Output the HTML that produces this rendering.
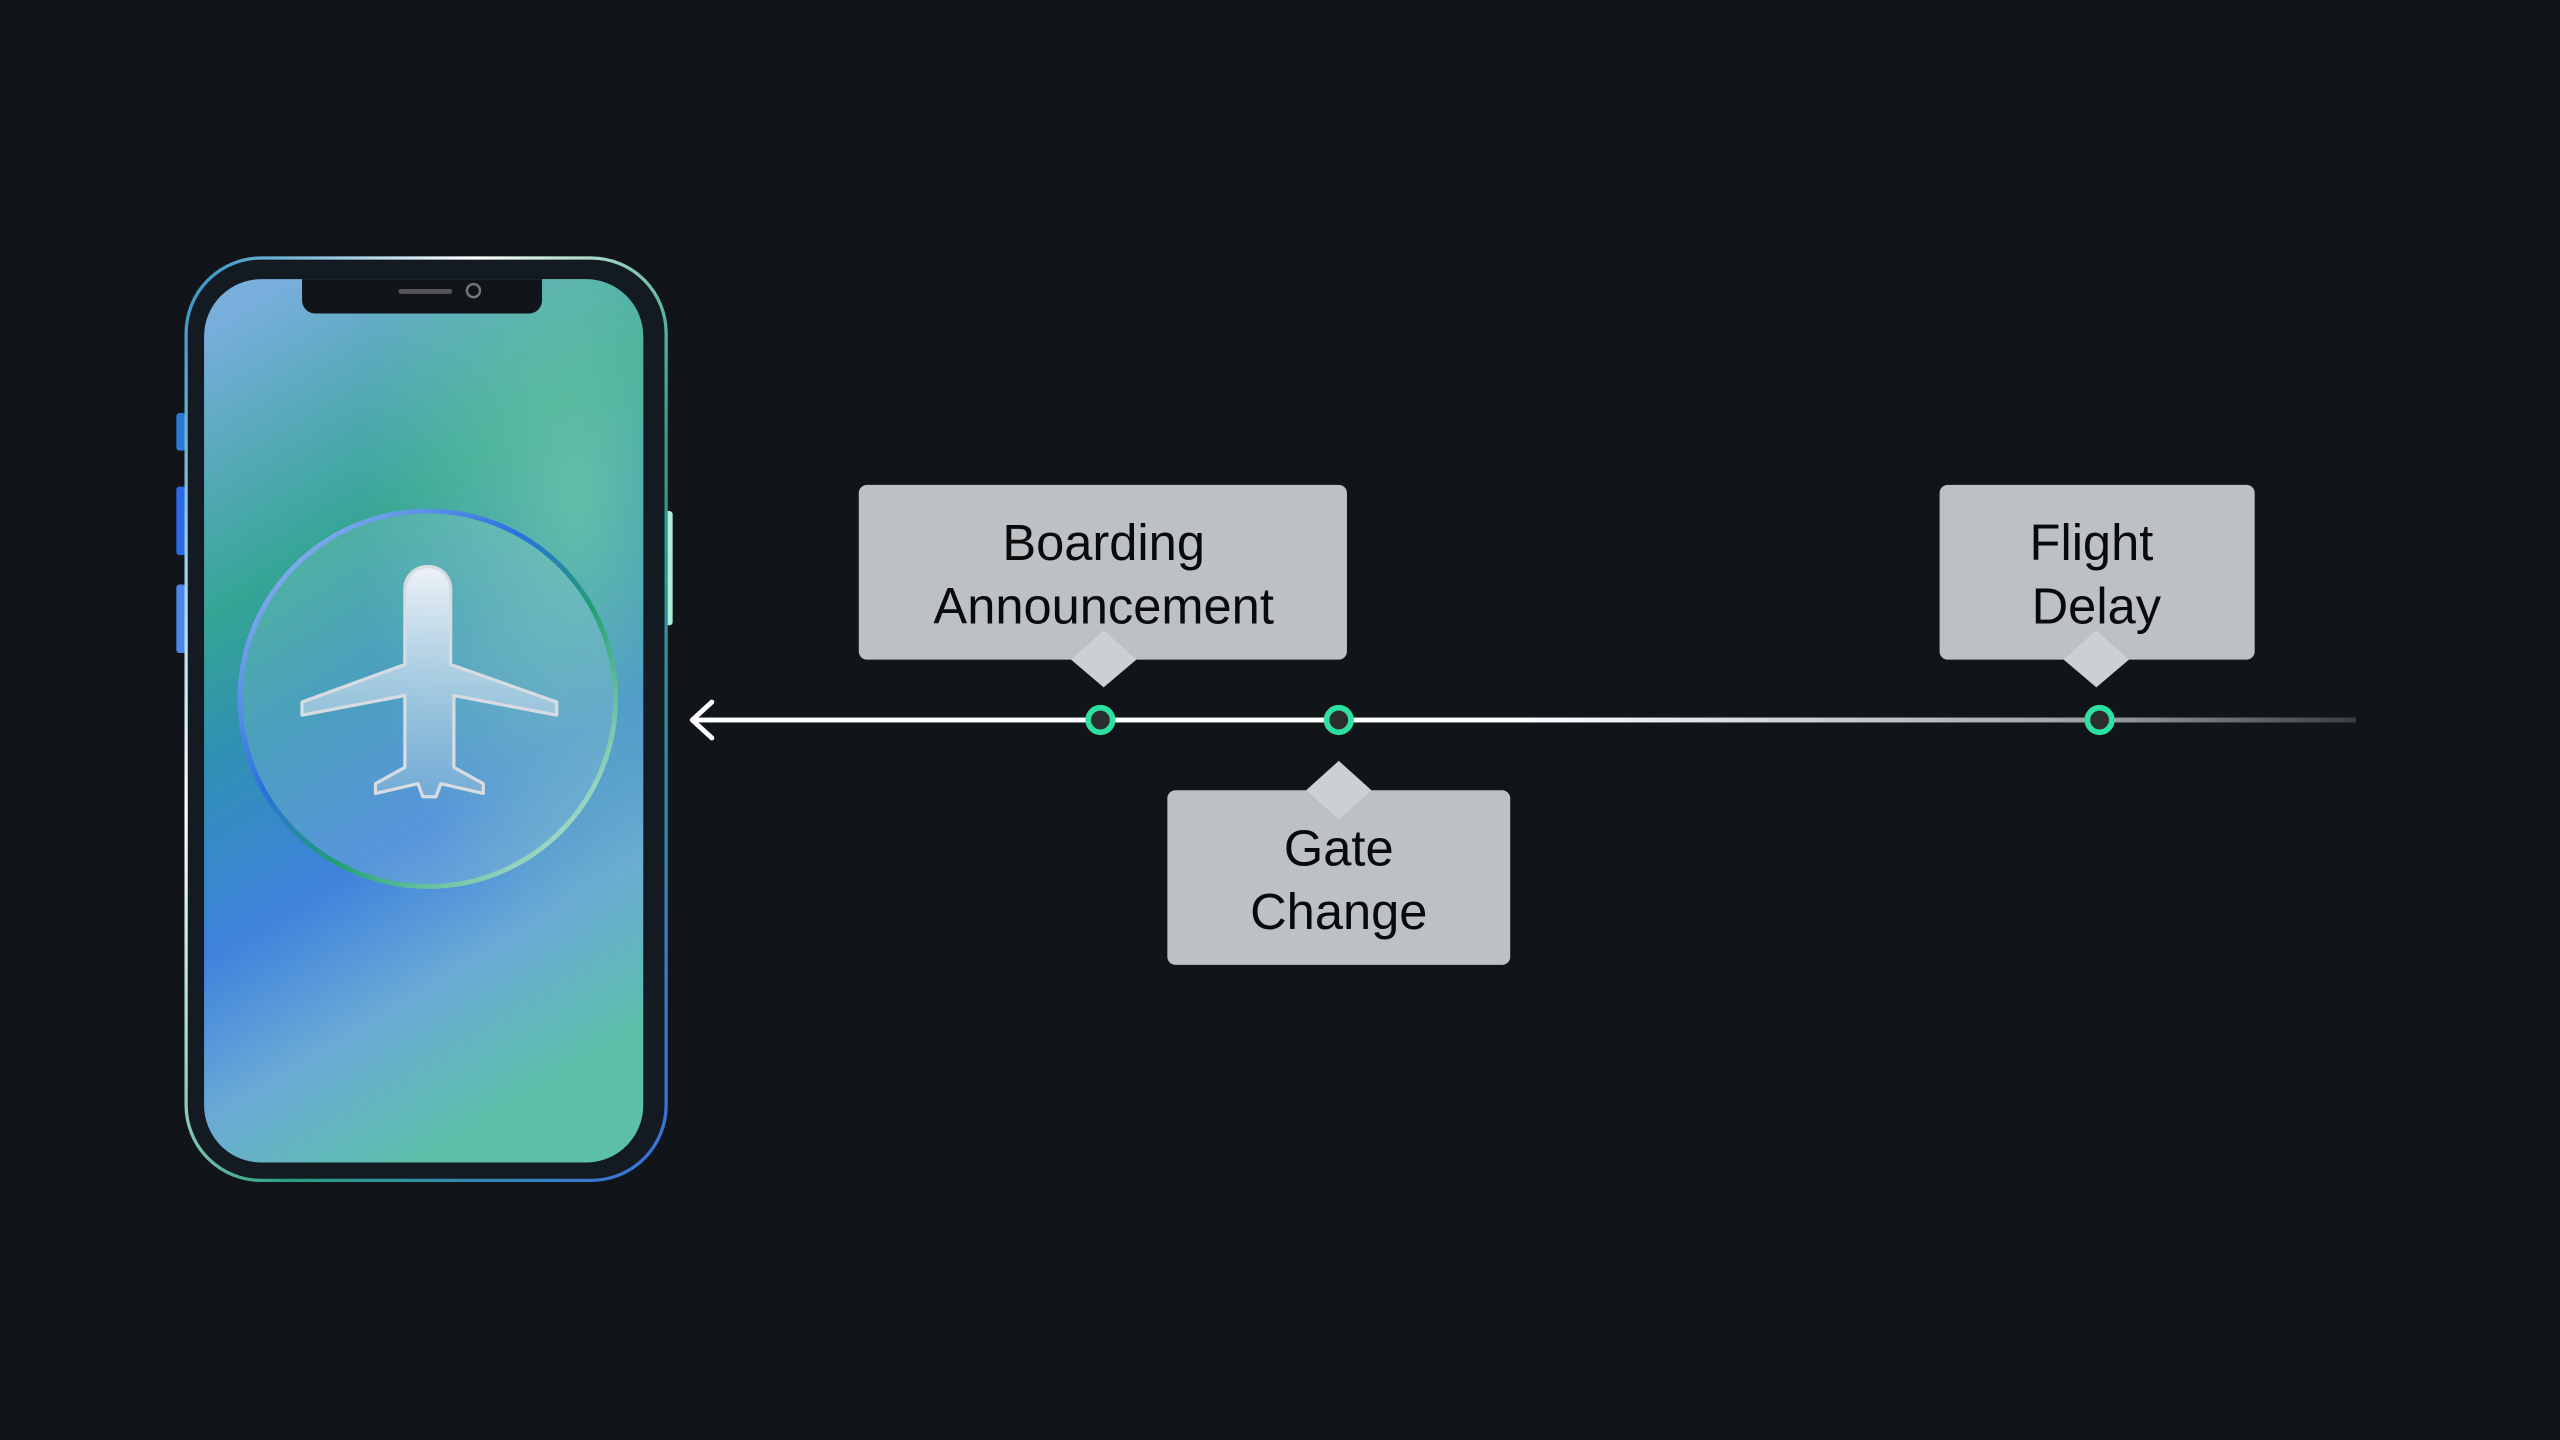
<!DOCTYPE html>
<html><head><meta charset="utf-8"><style>html,body{margin:0;padding:0;background:#111519;}svg{display:block}</style></head>
<body>
<svg width="2560" height="1440" viewBox="0 0 1568 882" xmlns="http://www.w3.org/2000/svg">
<defs>
<linearGradient id="scr" x1="0.2" y1="0" x2="0.5" y2="1">
<stop offset="0" stop-color="#78aedc"/>
<stop offset="0.3" stop-color="#34a594"/>
<stop offset="0.45" stop-color="#2f90b4"/>
<stop offset="0.65" stop-color="#3f82dc"/>
<stop offset="0.82" stop-color="#6aaad6"/>
<stop offset="1" stop-color="#5cc0a8"/>
</linearGradient>
<radialGradient id="scr2" cx="0.85" cy="0.25" r="0.5">
<stop offset="0" stop-color="#70c8a8" stop-opacity="0.8"/>
<stop offset="1" stop-color="#70c8a8" stop-opacity="0"/>
</radialGradient>
<linearGradient id="rim" x1="0" y1="0" x2="1" y2="1">
<stop offset="0" stop-color="#2a8fc0"/>
<stop offset="0.3" stop-color="#ffffff"/>
<stop offset="0.6" stop-color="#2aa080"/>
<stop offset="1" stop-color="#3a70e0"/>
</linearGradient>
<linearGradient id="ring" x1="0" y1="0" x2="1" y2="1">
<stop offset="0" stop-color="#a8c8f0"/>
<stop offset="0.4" stop-color="#2a70e0"/>
<stop offset="0.6" stop-color="#20a070"/>
<stop offset="1" stop-color="#e0f4f0"/>
</linearGradient>
<linearGradient id="plane" x1="0" y1="0" x2="0" y2="1">
<stop offset="0" stop-color="#eef2f8"/>
<stop offset="1" stop-color="#88b8d8" stop-opacity="0.6"/>
</linearGradient>
<linearGradient id="line" gradientUnits="userSpaceOnUse" x1="424" y1="0" x2="1443" y2="0">
<stop offset="0" stop-color="#ffffff"/>
<stop offset="0.5" stop-color="#ffffff"/>
<stop offset="0.85" stop-color="#9a9ea2"/>
<stop offset="1" stop-color="#3a3e42"/>
</linearGradient>
</defs>
<rect x="108" y="253" width="6" height="23" rx="2" fill="#2a7ad8"/>
<rect x="108" y="298" width="6" height="42" rx="2" fill="#2a6ae8"/>
<rect x="108" y="358" width="6" height="42" rx="2" fill="#4a88e8"/>
<rect x="406" y="313" width="6" height="70" rx="2" fill="#b0ecd8"/>
<rect x="114" y="158" width="294" height="565" rx="46" fill="#131a22" stroke="url(#rim)" stroke-width="2"/>
<rect x="125" y="171" width="269" height="541" rx="35" fill="url(#scr)"/>
<rect x="125" y="171" width="269" height="541" rx="35" fill="url(#scr2)"/>
<path d="M185,171 H332 V184 a8,8 0 0 1 -8,8 H193 a8,8 0 0 1 -8,-8 Z" fill="#111519"/>
<rect x="244" y="177" width="33" height="3" rx="1.5" fill="#555"/>
<circle cx="290" cy="178" r="4" fill="none" stroke="#777" stroke-width="1.5"/>
<circle cx="262" cy="428" r="115" fill="#9fd0d8" fill-opacity="0.25" stroke="url(#ring)" stroke-width="3"/>
<path d="M262,347 c-8,0 -14,6 -14,14 v46 L185,430 v8 l63,-12 v44 l-18,10 v6 l26,-6 3,8 h8 l3,-8 26,6 v-6 l-18,-10 v-44 l63,12 v-8 L276,407 v-46 c0,-8 -6,-14 -14,-14 z" fill="url(#plane)" stroke="#d8dce2" stroke-width="2" stroke-linejoin="round"/>
<rect x="424" y="439.5" width="1019" height="3" fill="url(#line)"/>
<path d="M436,430 L424,441 L436,452" fill="none" stroke="#fff" stroke-width="3" stroke-linecap="round" stroke-linejoin="round"/>
<g font-family="Liberation Sans, sans-serif" font-size="31" text-anchor="middle" fill="#0a0a0a">
<rect x="526" y="297" width="299" height="107" rx="5" fill="#bcc1c5"/>
<path d="M656,404 L676,421 L696,404 L676,386 Z" fill="#cbd0d4"/>
<text x="676" y="343">Boarding</text>
<text x="676" y="382">Announcement</text>
<rect x="715" y="484" width="210" height="107" rx="5" fill="#bcc1c5"/>
<path d="M800,484 L820,466 L840,484 L820,502 Z" fill="#cbd0d4"/>
<text x="820" y="530">Gate</text>
<text x="820" y="569">Change</text>
<rect x="1188" y="297" width="193" height="107" rx="5" fill="#bcc1c5"/>
<path d="M1264,404 L1284,421 L1304,404 L1284,386 Z" fill="#cbd0d4"/>
<text x="1281" y="343">Flight</text>
<text x="1284" y="382">Delay</text>
</g>
<g fill="#2a2c30" stroke="#2ee0a0" stroke-width="3.5">
<circle cx="674" cy="441" r="7.5"/>
<circle cx="820" cy="441" r="7.5"/>
<circle cx="1286" cy="441" r="7.5"/>
</g>
</svg>
</body></html>
